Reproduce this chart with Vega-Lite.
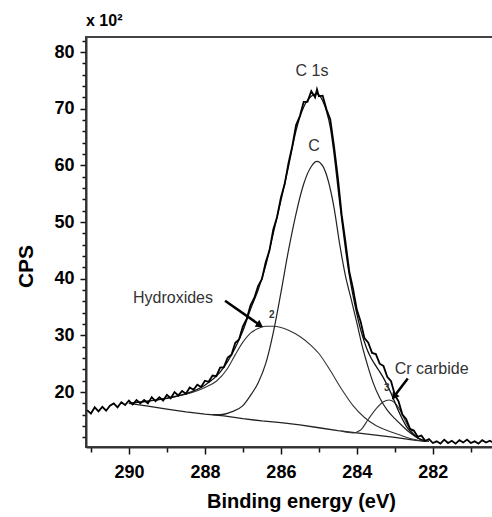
{
  "$schema": "https://vega.github.io/schema/vega-lite/v6.json",
  "width": 408,
  "height": 410,
  "autosize": {"type": "none"},
  "padding": {"left": 86, "top": 37, "right": 0, "bottom": 70},
  "background": "white",
  "title": {"text": "x 10²", "anchor": "start", "frame": "group", "font": "Liberation Sans", "fontSize": 16, "fontWeight": "bold", "color": "black", "offset": 3},
  "config": {
    "view": {"stroke": "#444", "strokeWidth": 2},
    "axis": {"labelFont": "Liberation Sans", "labelFontWeight": "bold", "labelColor": "black", "titleFont": "Liberation Sans", "titleFontWeight": "bold", "titleColor": "black", "domainColor": "#333", "domainWidth": 2, "tickColor": "#111", "tickWidth": 1.5, "grid": false}
  },
  "datasets": {
    "raw": [
      {"be":291.1,"cps":16.8},{"be":291.0,"cps":16.2},{"be":290.9,"cps":17.3},{"be":290.8,"cps":16.6},{"be":290.7,"cps":17.4},{"be":290.6,"cps":16.7},{"be":290.5,"cps":17.6},{"be":290.4,"cps":18.0},{"be":290.3,"cps":17.3},{"be":290.2,"cps":18.2},{"be":290.1,"cps":17.7},{"be":290.0,"cps":18.5},{"be":289.9,"cps":17.8},{"be":289.8,"cps":18.6},{"be":289.7,"cps":18.0},{"be":289.6,"cps":18.6},{"be":289.5,"cps":18.0},{"be":289.4,"cps":19.1},{"be":289.3,"cps":18.4},{"be":289.2,"cps":19.1},{"be":289.1,"cps":18.5},{"be":289.0,"cps":19.5},{"be":288.9,"cps":18.9},{"be":288.8,"cps":20.0},{"be":288.7,"cps":19.4},{"be":288.6,"cps":20.2},{"be":288.5,"cps":19.7},{"be":288.4,"cps":20.8},{"be":288.3,"cps":20.4},{"be":288.2,"cps":21.3},{"be":288.1,"cps":20.9},{"be":288.0,"cps":22.0},{"be":287.9,"cps":21.8},{"be":287.8,"cps":22.9},{"be":287.7,"cps":22.8},{"be":287.6,"cps":24.3},{"be":287.5,"cps":24.4},{"be":287.4,"cps":26.1},{"be":287.3,"cps":26.6},{"be":287.2,"cps":28.7},{"be":287.1,"cps":29.3},{"be":287.0,"cps":31.6},{"be":286.9,"cps":32.9},{"be":286.8,"cps":35.3},{"be":286.7,"cps":36.6},{"be":286.6,"cps":38.7},{"be":286.5,"cps":39.9},{"be":286.4,"cps":42.9},{"be":286.3,"cps":45.0},{"be":286.2,"cps":48.7},{"be":286.1,"cps":50.9},{"be":286.0,"cps":54.3},{"be":285.9,"cps":56.7},{"be":285.8,"cps":60.4},{"be":285.7,"cps":63.4},{"be":285.6,"cps":67.1},{"be":285.5,"cps":68.7},{"be":285.4,"cps":71.2},{"be":285.3,"cps":71.2},{"be":285.2,"cps":73.1},{"be":285.1,"cps":72.0},{"be":285.05,"cps":73.4},{"be":285.0,"cps":72.2},{"be":284.9,"cps":72.3},{"be":284.8,"cps":69.9},{"be":284.7,"cps":68.1},{"be":284.6,"cps":63.3},{"be":284.5,"cps":57.8},{"be":284.4,"cps":51.3},{"be":284.3,"cps":46.5},{"be":284.2,"cps":41.3},{"be":284.1,"cps":38.2},{"be":284.0,"cps":34.5},{"be":283.9,"cps":32.4},{"be":283.8,"cps":29.5},{"be":283.7,"cps":28.7},{"be":283.6,"cps":26.9},{"be":283.5,"cps":26.7},{"be":283.4,"cps":25.0},{"be":283.3,"cps":24.6},{"be":283.2,"cps":22.7},{"be":283.1,"cps":21.9},{"be":283.0,"cps":19.5},{"be":282.9,"cps":18.3},{"be":282.8,"cps":16.0},{"be":282.7,"cps":15.2},{"be":282.6,"cps":13.5},{"be":282.5,"cps":13.2},{"be":282.4,"cps":12.1},{"be":282.3,"cps":12.3},{"be":282.2,"cps":11.4},{"be":282.1,"cps":11.7},{"be":282.0,"cps":11.0},{"be":281.9,"cps":11.3},{"be":281.8,"cps":10.9},{"be":281.7,"cps":11.6},{"be":281.6,"cps":11.0},{"be":281.5,"cps":11.4},{"be":281.4,"cps":10.9},{"be":281.3,"cps":11.5},{"be":281.2,"cps":11.1},{"be":281.1,"cps":11.6},{"be":281.0,"cps":11.0},{"be":280.9,"cps":11.3},{"be":280.8,"cps":10.9},{"be":280.7,"cps":11.5},{"be":280.6,"cps":11.1},{"be":280.5,"cps":11.4},{"be":280.4,"cps":11.0}
    ],
    "envelope": [
      {"be":290.0,"cps":18.0},{"be":289.5,"cps":18.4},{"be":289.0,"cps":18.9},{"be":288.5,"cps":19.7},{"be":288.0,"cps":21.2},{"be":287.6,"cps":23.5},{"be":287.4,"cps":25.4},{"be":287.2,"cps":27.8},{"be":287.0,"cps":30.8},{"be":286.8,"cps":34.6},{"be":286.6,"cps":38.0},{"be":286.4,"cps":42.3},{"be":286.2,"cps":48.0},{"be":286.0,"cps":53.8},{"be":285.8,"cps":59.8},{"be":285.6,"cps":66.2},{"be":285.4,"cps":70.3},{"be":285.2,"cps":72.2},{"be":285.05,"cps":72.6},{"be":284.9,"cps":71.4},{"be":284.8,"cps":69.6},{"be":284.7,"cps":66.8},{"be":284.6,"cps":62.0},{"be":284.5,"cps":56.2},{"be":284.4,"cps":50.5},{"be":284.3,"cps":45.3},{"be":284.2,"cps":40.7},{"be":284.1,"cps":37.0},{"be":284.0,"cps":33.8},{"be":283.9,"cps":31.0},{"be":283.8,"cps":28.8},{"be":283.7,"cps":27.0},{"be":283.6,"cps":25.7},{"be":283.5,"cps":24.6},{"be":283.4,"cps":23.6},{"be":283.3,"cps":22.5},{"be":283.2,"cps":21.2},{"be":283.1,"cps":19.8},{"be":283.0,"cps":18.2},{"be":282.9,"cps":16.6},{"be":282.8,"cps":15.2},{"be":282.7,"cps":14.0},{"be":282.6,"cps":13.1},{"be":282.5,"cps":12.4},{"be":282.4,"cps":11.9},{"be":282.3,"cps":11.6},{"be":282.2,"cps":11.4},{"be":282.1,"cps":11.3}
    ],
    "cpeak": [
      {"be":287.8,"cps":16.0},{"be":287.6,"cps":16.0},{"be":287.3,"cps":16.5},{"be":287.0,"cps":17.6},{"be":286.8,"cps":19.4},{"be":286.6,"cps":21.6},{"be":286.4,"cps":25.0},{"be":286.2,"cps":30.5},{"be":286.0,"cps":37.5},{"be":285.8,"cps":45.0},{"be":285.6,"cps":51.5},{"be":285.4,"cps":56.7},{"be":285.2,"cps":59.8},{"be":285.05,"cps":60.7},{"be":284.9,"cps":59.9},{"be":284.75,"cps":57.2},{"be":284.6,"cps":52.5},{"be":284.45,"cps":46.0},{"be":284.3,"cps":40.5},{"be":284.15,"cps":36.4},{"be":284.0,"cps":32.2},{"be":283.84,"cps":27.6},{"be":283.7,"cps":24.3},{"be":283.58,"cps":21.8},{"be":283.4,"cps":19.0},{"be":283.2,"cps":16.8},{"be":283.0,"cps":15.3},{"be":282.8,"cps":14.0},{"be":282.6,"cps":12.8},{"be":282.4,"cps":11.9},{"be":282.2,"cps":11.3}
    ],
    "hydrox": [
      {"be":290.0,"cps":18.0},{"be":289.5,"cps":18.4},{"be":289.0,"cps":18.9},{"be":288.5,"cps":19.6},{"be":288.0,"cps":20.8},{"be":287.7,"cps":21.9},{"be":287.4,"cps":24.2},{"be":287.2,"cps":26.6},{"be":287.0,"cps":28.8},{"be":286.8,"cps":30.4},{"be":286.6,"cps":31.2},{"be":286.4,"cps":31.6},{"be":286.2,"cps":31.6},{"be":286.0,"cps":31.4},{"be":285.8,"cps":30.9},{"be":285.5,"cps":29.8},{"be":285.2,"cps":28.2},{"be":285.0,"cps":26.8},{"be":284.7,"cps":23.8},{"be":284.4,"cps":20.5},{"be":284.1,"cps":17.6},{"be":283.8,"cps":15.5},{"be":283.5,"cps":14.1},{"be":283.2,"cps":13.2},{"be":282.9,"cps":12.5},{"be":282.6,"cps":11.8},{"be":282.3,"cps":11.4},{"be":282.2,"cps":11.3}
    ],
    "carbide": [
      {"be":284.4,"cps":13.1},{"be":284.1,"cps":12.8},{"be":283.9,"cps":13.3},{"be":283.7,"cps":15.2},{"be":283.5,"cps":17.0},{"be":283.3,"cps":18.3},{"be":283.15,"cps":18.6},{"be":283.0,"cps":18.1},{"be":282.87,"cps":16.9},{"be":282.7,"cps":14.6},{"be":282.53,"cps":12.8},{"be":282.35,"cps":11.7},{"be":282.2,"cps":11.3}
    ],
    "bg": [
      {"be":290.0,"cps":18.0},{"be":289.5,"cps":17.5},{"be":289.0,"cps":17.0},{"be":288.5,"cps":16.5},{"be":288.0,"cps":16.1},{"be":287.5,"cps":15.8},{"be":287.0,"cps":15.3},{"be":286.5,"cps":14.9},{"be":286.0,"cps":14.6},{"be":285.5,"cps":14.2},{"be":285.0,"cps":13.7},{"be":284.5,"cps":13.2},{"be":284.0,"cps":12.8},{"be":283.5,"cps":12.4},{"be":283.0,"cps":12.0},{"be":282.5,"cps":11.5},{"be":282.2,"cps":11.3}
    ],
    "labels": [
      {"be":285.18,"cps":76.6,"text":"C 1s"},
      {"be":285.13,"cps":63.4,"text":"C"},
      {"be":288.84,"cps":36.6,"text":"Hydroxides"},
      {"be":282.03,"cps":24.1,"text":"Cr carbide"}
    ],
    "nums": [
      {"be":286.24,"cps":33.6,"text":"2"},
      {"be":283.21,"cps":20.7,"text":"3"}
    ],
    "arrows": [
      {"name":"hydroxides","be":287.47,"cps":36.1,"be2":286.55,"cps2":31.8},
      {"name":"carbide","be":282.66,"cps":22.4,"be2":283.02,"cps2":19.2}
    ]
  },
  "encoding": {
    "x": {"field": "be", "type": "quantitative",
      "scale": {"domain": [291.13, 280.39], "nice": false, "zero": false},
      "axis": {"title": "Binding energy (eV)", "titleFontSize": 20, "titleX": 215, "titleY": 60, "titleBaseline": "alphabetic", "titleAlign": "center",
        "values": [291,290.5,290,289.5,289,288.5,288,287.5,287,286.5,286,285.5,285,284.5,284,283.5,283,282.5,282,281.5,281,280.5],
        "format": "d",
        "labelExpr": "datum.value % 2 === 0 ? datum.label : ''",
        "tickSize": {"condition": {"test": "datum.value % 2 === 0", "value": 7}, "value": 5},
        "labelFontSize": 18, "labelPadding": 9, "labelFlush": false, "labelOverlap": false}},
    "y": {"field": "cps", "type": "quantitative",
      "scale": {"domain": [10.3, 82.65], "nice": false, "zero": false},
      "axis": {"title": "CPS", "titleFontSize": 21, "titleX": -54, "titleY": 229, "titleAngle": 270, "titleBaseline": "alphabetic", "titleAlign": "center",
        "values": [12,14,16,18,20,22,24,26,28,30,32,34,36,38,40,42,44,46,48,50,52,54,56,58,60,62,64,66,68,70,72,74,76,78,80,82],
        "format": "d",
        "labelExpr": "datum.value % 10 === 0 ? datum.label : ''",
        "tickSize": {"condition": {"test": "datum.value % 10 === 0", "value": 6}, "value": 4},
        "labelFontSize": 18, "labelPadding": 6, "labelFlush": false, "labelOverlap": false}}
  },
  "layer": [
    {"data": {"name": "bg"}, "mark": {"type": "line", "color": "#222", "strokeWidth": 1.3}},
    {"data": {"name": "hydrox"}, "mark": {"type": "line", "color": "#333", "strokeWidth": 1.1, "interpolate": "monotone"}},
    {"data": {"name": "cpeak"}, "mark": {"type": "line", "color": "#222", "strokeWidth": 1.2, "interpolate": "monotone"}},
    {"data": {"name": "carbide"}, "mark": {"type": "line", "color": "#333", "strokeWidth": 1.1, "interpolate": "monotone"}},
    {"data": {"name": "envelope"}, "mark": {"type": "line", "color": "#111", "strokeWidth": 1.3, "interpolate": "monotone"}},
    {"data": {"name": "raw"}, "mark": {"type": "line", "color": "black", "strokeWidth": 1.8}},
    {"data": {"name": "arrows"}, "mark": {"type": "rule", "color": "black", "strokeWidth": 2.5},
      "encoding": {"x2": {"field": "be2"}, "y2": {"field": "cps2"}}},
    {"data": {"name": "arrows"}, "transform": [{"filter": "datum.name === 'hydroxides'"}],
      "mark": {"type": "point", "shape": "triangle-right", "filled": true, "color": "black", "opacity": 1, "size": 70, "angle": 33},
      "encoding": {"x": {"field": "be2", "type": "quantitative"}, "y": {"field": "cps2", "type": "quantitative"}}},
    {"data": {"name": "arrows"}, "transform": [{"filter": "datum.name === 'carbide'"}],
      "mark": {"type": "point", "shape": "triangle-right", "filled": true, "color": "black", "opacity": 1, "size": 70, "angle": 127},
      "encoding": {"x": {"field": "be2", "type": "quantitative"}, "y": {"field": "cps2", "type": "quantitative"}}},
    {"data": {"name": "labels"}, "mark": {"type": "text", "font": "Liberation Sans", "fontSize": 16, "color": "#333", "align": "center", "baseline": "middle"},
      "encoding": {"text": {"field": "text"}}},
    {"data": {"name": "nums"}, "mark": {"type": "text", "font": "Liberation Sans", "fontSize": 10, "fontWeight": "bold", "color": "#333", "align": "center", "baseline": "middle"},
      "encoding": {"text": {"field": "text"}}}
  ]
}
